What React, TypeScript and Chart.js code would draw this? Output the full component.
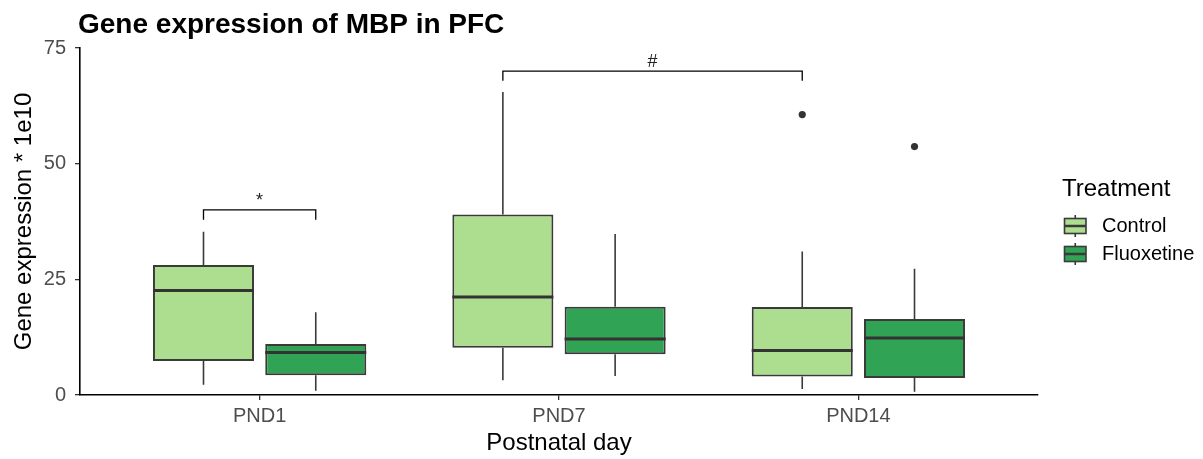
import React, { useEffect, useRef } from 'react';
import { Chart, registerables } from 'chart.js';

Chart.register(...registerables);

// ---- data ----
const days = ['PND1', 'PND7', 'PND14'];
const treatments = ['Control', 'Fluoxetine'];
const treatmentColors = ['#addd8e', '#31a354'];

const controlMin = [2.2, 3.2, 1.3];
const controlQ1 = [7.35, 10.2, 4.0];
const controlMedian = [22.6, 21.2, 9.6];
const controlQ3 = [28.1, 39.0, 19.0];
const controlMax = [35.3, 65.5, 31.0];
const controlOutliers: number[][] = [[], [], [60.6]];

const fluoxMin = [0.9, 4.1, 0.7];
const fluoxQ1 = [4.25, 8.8, 3.7];
const fluoxMedian = [9.2, 12.1, 12.3];
const fluoxQ3 = [11.0, 19.1, 16.4];
const fluoxMax = [17.9, 34.8, 27.3];
const fluoxOutliers: number[][] = [[], [], [53.7]];

const yTicks = [0, 25, 50, 75];

// significance brackets: [treatment index, day index]
const sigLabels = ['*', '#'];
const sigTop = [40.0, 70.0];
const sigLeg = [37.9, 67.9];
const sigFrom = [[0, 0], [0, 1]];
const sigTo = [[1, 0], [0, 2]];

const titleText = 'Gene expression of MBP in PFC';
const legendTitle = 'Treatment';
const xTitle = 'Postnatal day';
const yTitle = 'Gene expression * 1e10';

const FONT = "'Liberation Sans', Arial, Helvetica, sans-serif";

const stats = [
  { min: controlMin, q1: controlQ1, med: controlMedian, q3: controlQ3, max: controlMax, out: controlOutliers },
  { min: fluoxMin, q1: fluoxQ1, med: fluoxMedian, q3: fluoxQ3, max: fluoxMax, out: fluoxOutliers },
];

const LINE = '#3a3a3a';

const boxPlugin = {
  id: 'boxExtras',
  afterDatasetsDraw(chart: any) {
    const { ctx } = chart;
    const y = chart.scales.y;
    stats.forEach((s, di) => {
      const meta = chart.getDatasetMeta(di);
      meta.data.forEach((bar: any, i: number) => {
        const x = bar.x;
        const w = bar.width;
        ctx.save();
        ctx.strokeStyle = LINE;
        ctx.lineWidth = 1.6;
        ctx.beginPath();
        ctx.moveTo(x, y.getPixelForValue(s.q3[i]));
        ctx.lineTo(x, y.getPixelForValue(s.max[i]));
        ctx.moveTo(x, y.getPixelForValue(s.q1[i]));
        ctx.lineTo(x, y.getPixelForValue(s.min[i]));
        ctx.stroke();
        const ym = y.getPixelForValue(s.med[i]);
        ctx.strokeStyle = '#333333';
        ctx.lineWidth = 3;
        ctx.beginPath();
        ctx.moveTo(x - w / 2, ym);
        ctx.lineTo(x + w / 2, ym);
        ctx.stroke();
        ctx.fillStyle = '#333333';
        s.out[i].forEach((v) => {
          ctx.beginPath();
          ctx.arc(x, y.getPixelForValue(v), 3.6, 0, Math.PI * 2);
          ctx.fill();
        });
        ctx.restore();
      });
    });

    // significance brackets
    sigLabels.forEach((lab, k) => {
      const a = chart.getDatasetMeta(sigFrom[k][0]).data[sigFrom[k][1]];
      const b = chart.getDatasetMeta(sigTo[k][0]).data[sigTo[k][1]];
      const yt = y.getPixelForValue(sigTop[k]);
      const yl = y.getPixelForValue(sigLeg[k]);
      ctx.save();
      ctx.strokeStyle = '#000000';
      ctx.lineWidth = 1.3;
      ctx.beginPath();
      ctx.moveTo(a.x, yl);
      ctx.lineTo(a.x, yt);
      ctx.lineTo(b.x, yt);
      ctx.lineTo(b.x, yl);
      ctx.stroke();
      ctx.fillStyle = '#222222';
      ctx.font = `18px ${FONT}`;
      ctx.textAlign = 'center';
      ctx.textBaseline = 'alphabetic';
      ctx.fillText(lab, (a.x + b.x) / 2, yt - 4);
      ctx.restore();
    });
  },
  afterDraw(chart: any) {
    const { ctx, chartArea } = chart;
    ctx.save();
    // title
    ctx.fillStyle = '#000000';
    ctx.font = `bold 28px ${FONT}`;
    ctx.textAlign = 'left';
    ctx.textBaseline = 'alphabetic';
    ctx.fillText(titleText, chartArea.left - 2, 33);

    // legend
    const lx = 1062;
    ctx.font = `24px ${FONT}`;
    ctx.textBaseline = 'middle';
    ctx.fillText(legendTitle, lx, 189);
    const rows = [226, 254];
    treatments.forEach((t, i) => {
      const cy = rows[i];
      const bx0 = lx + 2.5;
      const bx1 = lx + 24;
      const cx = (bx0 + bx1) / 2;
      ctx.strokeStyle = LINE;
      ctx.lineWidth = 1.6;
      ctx.beginPath();
      ctx.moveTo(cx, cy - 11);
      ctx.lineTo(cx, cy + 11);
      ctx.stroke();
      ctx.fillStyle = treatmentColors[i];
      ctx.fillRect(bx0, cy - 7.5, bx1 - bx0, 15);
      ctx.strokeRect(bx0, cy - 7.5, bx1 - bx0, 15);
      ctx.lineWidth = 2.5;
      ctx.beginPath();
      ctx.moveTo(bx0, cy);
      ctx.lineTo(bx1, cy);
      ctx.stroke();
      ctx.fillStyle = '#000000';
      ctx.font = `20px ${FONT}`;
      ctx.textBaseline = 'middle';
      ctx.fillText(t, lx + 40, cy);
    });
    ctx.restore();
  },
};

export default function App() {
  const ref = useRef<HTMLCanvasElement | null>(null);

  useEffect(() => {
    document.body.style.margin = '0';
    const canvas = ref.current;
    if (!canvas) return;
    const tickFont = { family: FONT, size: 20 };
    const chart = new Chart(canvas, {
      type: 'bar',
      data: {
        datasets: treatments.map((t, di) => ({
          label: t,
          data: days.map((_, i) => ({ x: i + 1, y: [stats[di].q1[i], stats[di].q3[i]] })),
          backgroundColor: treatmentColors[di],
          borderColor: LINE,
          borderWidth: 2,
          borderSkipped: false,
          categoryPercentage: 0.75,
          barPercentage: 0.9,
        })) as any,
      },
      options: {
        responsive: false,
        maintainAspectRatio: false,
        animation: false,
        layout: { padding: { top: 48, right: 165, bottom: 0, left: 0 } },
        plugins: {
          legend: { display: false },
          tooltip: { enabled: false },
          title: { display: false },
        },
        scales: {
          x: {
            type: 'linear',
            min: 0.4,
            max: 3.6,
            offset: false,
            afterBuildTicks: (s: any) => {
              s.ticks = days.map((_, i) => ({ value: i + 1 }));
            },
            afterFit: (s: any) => {
              s.height = 64;
            },
            ticks: {
              callback: (v: any) => days[Math.round(v) - 1] ?? '',
              font: tickFont,
              color: '#4d4d4d',
              padding: 4.5,
              autoSkip: false,
              maxRotation: 0,
            },
            grid: { display: true, offset: false, drawOnChartArea: false, drawTicks: true, tickLength: 5, color: '#333333', lineWidth: 1.3 },
            border: { display: true, color: '#000000', width: 1.6 },
            title: { display: true, text: xTitle, color: '#000000', font: { family: FONT, size: 24 }, padding: { top: 0, bottom: 1.6 } },
          },
          y: {
            type: 'linear',
            min: 0,
            max: 75,
            afterBuildTicks: (s: any) => {
              s.ticks = yTicks.map((v) => ({ value: v }));
            },
            afterFit: (s: any) => {
              s.width = 80;
            },
            ticks: { font: tickFont, color: '#4d4d4d', padding: 9 },
            grid: { display: true, offset: false, drawOnChartArea: false, drawTicks: true, tickLength: 5, color: '#333333', lineWidth: 1.3 },
            border: { display: true, color: '#000000', width: 1.6 },
            title: { display: true, text: yTitle, color: '#000000', font: { family: FONT, size: 24 }, padding: { top: 9.6, bottom: 0 } },
          },
        },
      } as any,
      plugins: [boxPlugin],
    });
    return () => chart.destroy();
  }, []);

  return (
    <div style={{ width: 1203, height: 459, background: '#ffffff' }}>
      <canvas ref={ref} width={1203} height={459} style={{ display: 'block', width: 1203, height: 459 }} />
    </div>
  );
}
